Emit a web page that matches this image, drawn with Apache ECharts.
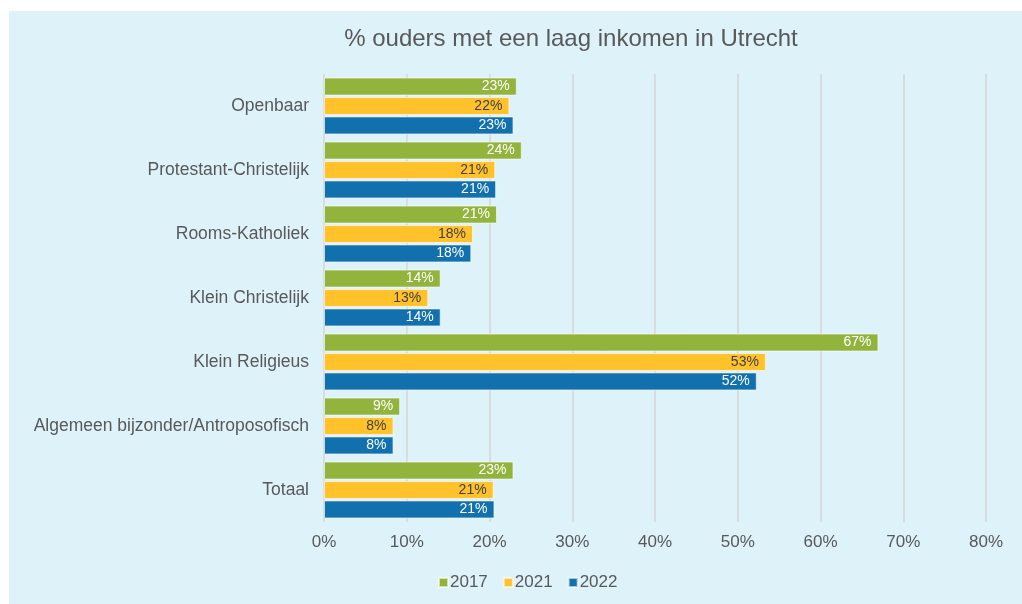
<!DOCTYPE html>
<html>
<head>
<meta charset="utf-8">
<script src="https://cdn.jsdelivr.net/npm/echarts@6/dist/echarts.min.js"></script>
<style>
  html, body { margin: 0; padding: 0; background: #ffffff; }
  #chart { width: 1022px; height: 604px; }
</style>
</head>
<body>
<div id="chart"></div>
<script>
const categories = [
  "Openbaar",
  "Protestant-Christelijk",
  "Rooms-Katholiek",
  "Klein Christelijk",
  "Klein Religieus",
  "Algemeen bijzonder/Antroposofisch",
  "Totaal",
];
const years = ["2017", "2021", "2022"];
const values2017 = [23.3, 23.9, 20.9, 14.1, 67.0, 9.2, 22.9];
const values2021 = [22.4, 20.7, 18.0, 12.6, 53.4, 8.4, 20.5];
const values2022 = [22.9, 20.8, 17.8, 14.1, 52.3, 8.4, 20.6];
const colors = ["#92b43c", "#ffc22b", "#1170ad"];
const labelColors = ["#ffffff", "#404040", "#ffffff"];

const chart = echarts.init(document.getElementById("chart"));
const font = "Liberation Sans, Arial, sans-serif";

function makeSeries(name, data, i) {
  return {
    name: name,
    type: "bar",
    data: data,
    barWidth: 18,
    barGap: "8%",
    itemStyle: {
      color: colors[i],
      borderColor: "rgba(255,255,255,0.6)",
      borderWidth: 1,
    },
    label: {
      show: true,
      position: "insideRight",
      distance: 7,
      color: labelColors[i],
      fontFamily: font,
      fontSize: 14,
      formatter: (p) => Math.round(p.value) + "%",
    },
  };
}

const option = {
  animation: false,
  backgroundColor: "#ffffff",
  graphic: [
    {
      type: "rect",
      z: -10,
      shape: { x: 9, y: 11, width: 1013, height: 593 },
      style: { fill: "#def2fa" },
    },
  ],
  title: {
    text: "% ouders met een laag inkomen in Utrecht",
    left: 566,
    top: 22,
    textAlign: "center",
    textStyle: {
      fontFamily: font,
      fontSize: 24,
      fontWeight: "normal",
      color: "#595959",
    },
  },
  legend: {
    bottom: 8,
    left: 433,
    itemWidth: 9,
    itemHeight: 9,
    itemGap: 15,
    icon: "rect",
    textStyle: { fontFamily: font, fontSize: 17, color: "#595959", padding: [0, 0, 0, -3] },
    data: years,
  },
  grid: { left: 324, right: 36, top: 74, bottom: 82 },
  xAxis: {
    type: "value",
    min: 0,
    max: 80,
    interval: 10,
    axisLine: { show: false },
    axisTick: { show: false },
    splitLine: { lineStyle: { color: "#d4d4d4", width: 1.5 } },
    axisLabel: {
      formatter: "{value}%",
      fontFamily: font,
      fontSize: 17,
      color: "#595959",
      margin: 12,
    },
  },
  yAxis: {
    type: "category",
    data: categories,
    inverse: true,
    axisLine: { show: false },
    axisTick: { show: false },
    axisLabel: {
      fontFamily: font,
      fontSize: 17.5,
      color: "#595959",
      margin: 15,
    },
  },
  series: [
    makeSeries(years[0], values2017, 0),
    makeSeries(years[1], values2021, 1),
    makeSeries(years[2], values2022, 2),
  ],
};

chart.setOption(option);
</script>
</body>
</html>
